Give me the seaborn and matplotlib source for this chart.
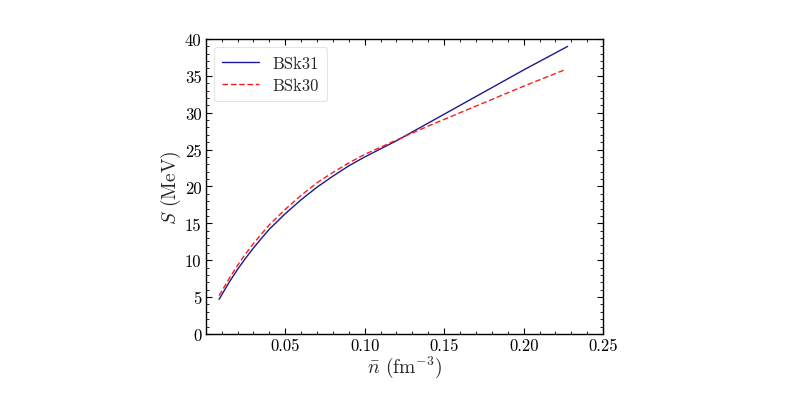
import numpy as np
import pandas as pd
import matplotlib
matplotlib.use("Agg")
import matplotlib.pyplot as plt
import seaborn as sns
from matplotlib.ticker import MultipleLocator, FixedLocator

# Data
n_bsk31 = [0.0084, 0.015, 0.02, 0.025, 0.03, 0.035, 0.04, 0.05, 0.06, 0.07, 0.08,
           0.09, 0.10, 0.12, 0.14, 0.16, 0.18, 0.20, 0.2277]
S_bsk31 = [4.7, 7.1, 8.75, 10.25, 11.65, 12.95, 14.2, 16.3, 18.2, 19.9, 21.4,
           22.8, 24.0, 26.2, 28.6, 31.0, 33.4, 35.8, 39.0]
n_bsk30 = [0.0084, 0.015, 0.02, 0.025, 0.03, 0.035, 0.04, 0.05, 0.06, 0.07, 0.08,
           0.09, 0.10, 0.12, 0.14, 0.16, 0.18, 0.20, 0.2268]
S_bsk30 = [5.2, 7.6, 9.3, 10.85, 12.25, 13.55, 14.8, 16.9, 18.8, 20.5, 21.9,
           23.2, 24.35, 26.3, 28.2, 30.0, 31.8, 33.6, 35.9]
x_ticks = [0.05, 0.10, 0.15, 0.20, 0.25]
x_tick_labels = ["0.05", "0.10", "0.15", "0.20", "0.25"]
y_ticks = [0, 5, 10, 15, 20, 25, 30, 35, 40]

sns.set_theme(style="ticks")
plt.rcParams.update({
    "font.family": "serif",
    "font.serif": ["cmr10", "DejaVu Serif"],
    "mathtext.fontset": "cm",
    "axes.formatter.use_mathtext": True,
    "axes.unicode_minus": False,
    "axes.edgecolor": "black",
    "axes.linewidth": 1.0,
    "xtick.direction": "in",
    "ytick.direction": "in",
    "xtick.top": True,
    "ytick.right": True,
    "xtick.color": "black",
    "ytick.color": "black",
})

df = pd.concat([
    pd.DataFrame({"n": n_bsk31, "S": S_bsk31, "model": "BSk31"}),
    pd.DataFrame({"n": n_bsk30, "S": S_bsk30, "model": "BSk30"}),
])

fig = plt.figure(figsize=(8.02, 4.02), dpi=100)
ax = fig.add_axes([0.2565, 0.1667, 0.4955, 0.7338])

sns.lineplot(data=df, x="n", y="S", hue="model", style="model",
             palette={"BSk31": "#1a1a8c", "BSk30": "#ff1a1a"},
             dashes={"BSk31": "", "BSk30": (4, 2)},
             linewidth=1.0, ax=ax, sort=False, estimator=None)

ax.set_xlim(0, 0.25)
ax.set_ylim(0, 40)
ax.xaxis.set_major_locator(FixedLocator(x_ticks))
ax.set_xticklabels(x_tick_labels)
ax.xaxis.set_minor_locator(MultipleLocator(0.01))
ax.yaxis.set_major_locator(FixedLocator(y_ticks))
ax.set_yticklabels([str(v) for v in y_ticks])
ax.yaxis.set_minor_locator(MultipleLocator(1))
ax.tick_params(which="major", length=4, width=0.8, labelsize=12, pad=3)
ax.tick_params(which="minor", length=2, width=0.6, top=True, right=True, direction="in")

ax.set_xlabel(r"$\bar{n}$ (fm$^{-3}$)", fontsize=14, labelpad=0)
ax.set_ylabel(r"$S$ (MeV)", fontsize=14, labelpad=1)

leg = ax.legend(loc="upper left", fontsize=12, frameon=True, handlelength=2.2,
                borderpad=0.5, labelspacing=0.4, handletextpad=0.8)
leg.get_frame().set_edgecolor("#dddddd")
leg.get_frame().set_linewidth(0.8)
for line in leg.get_lines():
    line.set_linewidth(1.0)

fig.savefig("out.png", dpi=100)
